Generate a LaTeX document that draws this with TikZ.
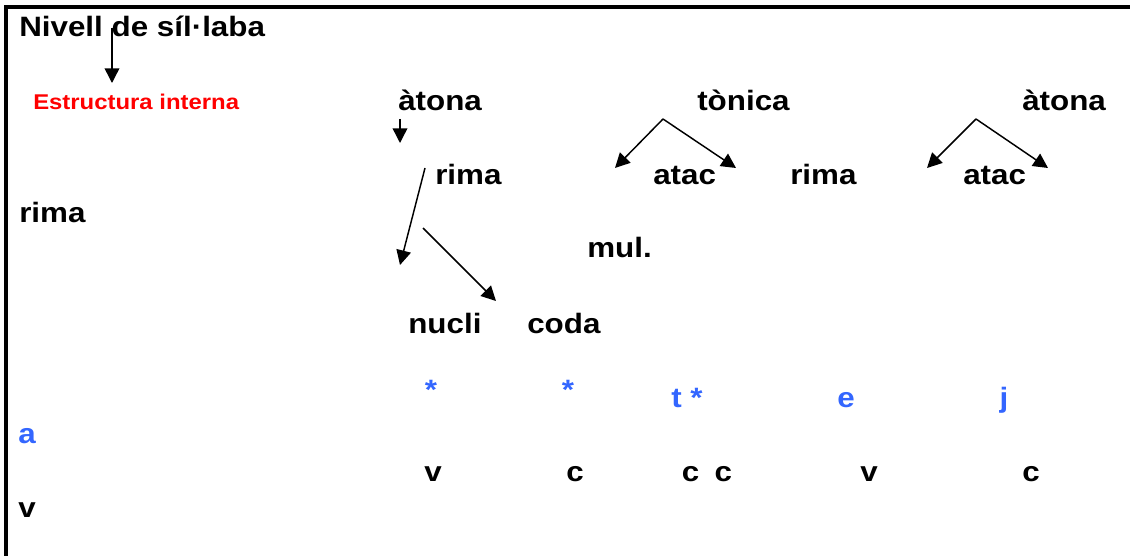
\documentclass[tikz,border=0pt]{standalone}
\usepackage{fontspec}
\setmainfont{Liberation Sans}[FakeStretch=1.12]
\usetikzlibrary{arrows.meta}

\definecolor{segblue}{RGB}{51,102,255}
\definecolor{labred}{RGB}{255,0,0}

\tikzset{
  lbl/.style={inner sep=0pt,anchor=base west,font=\bfseries\fontsize{21}{25}\selectfont},
  seg/.style={inner sep=0pt,anchor=base,font=\bfseries\fontsize{21}{25}\selectfont},
  arr/.style={line width=1.1pt,-{Triangle[length=11pt,width=11pt]}}
}

\begin{document}
\begin{tikzpicture}[x=0.75pt,y=0.75pt,yscale=-1,xscale=1]
\useasboundingbox (0,0) rectangle (1130,556);

% frame
\draw [line width=2.3pt] (1130,7) -- (6,7) -- (6,556);

% titles
\node [lbl] (nivell) at (19,37) {Nivell de síl·laba};
\node [lbl,color=labred,font=\bfseries\fontsize{16}{19}\selectfont] (estr) at (33,110) {Estructura interna};
\node [lbl] (atona1) at (398,111) {àtona};
\node [lbl] (tonica) at (697,111) {tònica};
\node [lbl] (atona2) at (1022,111) {àtona};

\node [lbl] (rima1) at (435,185) {rima};
\node [lbl] (atac1) at (653,185) {atac};
\node [lbl] (rima2) at (790,185) {rima};
\node [lbl] (atac2) at (963,185) {atac};
\node [lbl] (rima0) at (19,222) {rima};
\node [lbl] (mul) at (587,257) {mul.};
\node [lbl] (nucli) at (408,333) {nucli};
\node [lbl] (coda) at (527,333) {coda};

% segments
\node [seg,color=segblue] (s1) at (431,399) {*};
\node [seg,color=segblue] (s2) at (568,399) {*};
\node [seg,color=segblue] (s3) at (687,407) {t *};
\node [seg,color=segblue] (s4) at (846,407) {e};
\node [seg,color=segblue] (s5) at (1004,407) {j};
\node [lbl,color=segblue] (sa) at (18,443) {a};

\node [seg] (c1) at (433,481) {v};
\node [seg] (c2) at (575,481) {c};
\node [seg] (c3) at (707,481) {c\hspace{0.55em}c};
\node [seg] (c4) at (869,481) {v};
\node [seg] (c5) at (1031,481) {c};
\node [lbl] (cv) at (18,517) {v};

% arrows
\coordinate (n0) at (112,28);   \coordinate (n1) at (112,83);
\coordinate (a0) at (400,119);  \coordinate (a1) at (400,143);
\coordinate (r0) at (425,168);  \coordinate (r1) at (400,265);
\coordinate (r2) at (423,228);  \coordinate (r3) at (496,301);
\coordinate (t0) at (663,119);  \coordinate (t1) at (615,168);  \coordinate (t2) at (736,168);
\coordinate (u0) at (976,119);  \coordinate (u1) at (927,168);  \coordinate (u2) at (1048,168);

\draw [arr] (n0) -- (n1);
\draw [arr] (a0) -- (a1);
\draw [arr] (r0) -- (r1);
\draw [arr] (r2) -- (r3);
\draw [arr] (t0) -- (t1);
\draw [arr] (t0) -- (t2);
\draw [arr] (u0) -- (u1);
\draw [arr] (u0) -- (u2);

\end{tikzpicture}
\end{document}
